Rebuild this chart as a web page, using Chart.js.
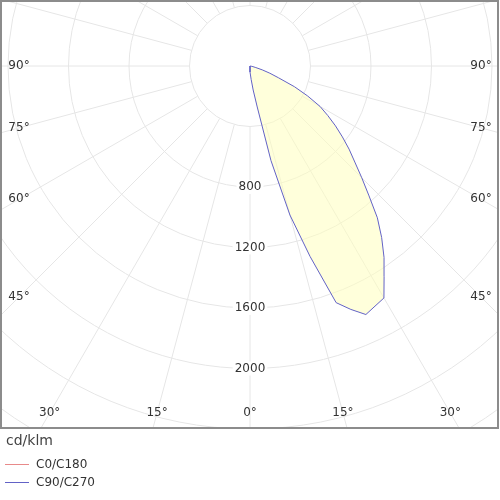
<!DOCTYPE html>
<html lang="en">
	<head>
		<meta http-equiv="content-type" content="text/html; charset=UTF-8">
		<script src="https://cdn.jsdelivr.net/npm/chart.js@4.4.1/dist/chart.umd.min.js"></script>
		<title>Polar intensity diagram</title>
		<style>
			body { margin: 0; background: #fff; }
			#wrap { position: absolute; left: 0; top: 0; width: 500px; height: 500px; }
		</style>
	</head>
	<body>
		<div id="wrap"><canvas id="polar-chart"></canvas></div>
		<script>
			// gamma angles (deg from nadir) and intensities in cd/klm
			var gammaAngles = [0, 2.5, 5, 7.5, 10, 12.5, 15, 17.5, 20, 22.5, 25, 27.5, 30, 32.5, 35, 37.5, 40, 42.5, 45,
				47.5, 50, 52.5, 55, 57.5, 60, 62.5, 65, 67.5, 70, 72.5, 75, 77.5, 80, 82.5, 85, 87.5, 90];
			var c90Values = [15, 40, 90, 160, 275, 640, 1020, 1320, 1665, 1742, 1813, 1790, 1771, 1650, 1545, 1430, 1310, 1165, 1045,
				940, 855, 770, 690, 610, 535, 430, 325, 205, 140, 85, 40, 20, 8, 3, 0, 0, 0];
			var c270Values = [15, 0, 0, 0, 0, 0, 0, 0, 0, 0, 0, 0, 0, 0, 0, 0, 0, 0, 0,
				0, 0, 0, 0, 0, 0, 0, 0, 0, 0, 0, 0, 0, 0, 0, 0, 0, 0];
			var c0Values = [0, 0, 0, 0, 0, 0, 0, 0, 0, 0, 0, 0, 0, 0, 0, 0, 0, 0, 0,
				0, 0, 0, 0, 0, 0, 0, 0, 0, 0, 0, 0, 0, 0, 0, 0, 0, 0];
			var c180Values = c0Values.slice();
			var ringValues = [400, 800, 1200, 1600, 2000, 2400, 2800, 3200, 3600, 4000];
			var ringLabels = ["800", "1200", "1600", "2000"];
			var angleLabels = [0, 15, 30, 45, 60, 75, 90];
			var seriesNames = ["C0/C180", "C90/C270"];
			var unitLabel = "cd/klm";

			// layout: centre at (250,66), 60.5 px per 400 cd
			var pxPerCd = 60.5 / 400;
			var area = {left: 1, top: 1, right: 499, bottom: 428};
			var centre = {x: 250, y: 66};

			function toPoints(leftVals, rightVals) {
				var pts = [];
				for (var i = gammaAngles.length - 1; i >= 0; i--) {
					var a = gammaAngles[i] * Math.PI / 180;
					pts.push({x: -leftVals[i] * Math.sin(a), y: -leftVals[i] * Math.cos(a)});
				}
				for (var j = 0; j < gammaAngles.length; j++) {
					var b = gammaAngles[j] * Math.PI / 180;
					pts.push({x: rightVals[j] * Math.sin(b), y: -rightVals[j] * Math.cos(b)});
				}
				return pts;
			}

			var font = "DejaVu Sans, Verdana, sans-serif";

			var polarGrid = {
				id: "polarGrid",
				beforeDatasetsDraw: function (chart) {
					var ctx = chart.ctx, ca = chart.chartArea;
					var xs = chart.scales.x, ys = chart.scales.y;
					var cx = xs.getPixelForValue(0), cy = ys.getPixelForValue(0);
					var k = (xs.getPixelForValue(1000) - cx) / 1000;
					ctx.save();
					ctx.beginPath();
					ctx.rect(ca.left, ca.top, ca.right - ca.left, ca.bottom - ca.top);
					ctx.clip();
					ctx.strokeStyle = "#e6e6e6";
					ctx.lineWidth = 1;
					for (var i = 0; i < ringValues.length; i++) {
						ctx.beginPath();
						ctx.arc(cx, cy, ringValues[i] * k, 0, Math.PI * 2);
						ctx.stroke();
					}
					var r0 = ringValues[0] * k;
					for (var g = 0; g < 360; g += 15) {
						var a = g * Math.PI / 180;
						ctx.beginPath();
						ctx.moveTo(cx + r0 * Math.sin(a), cy + r0 * Math.cos(a));
						ctx.lineTo(cx + 900 * Math.sin(a), cy + 900 * Math.cos(a));
						ctx.stroke();
					}
					ctx.restore();
				},
				afterDatasetsDraw: function (chart) {
					var ctx = chart.ctx, ca = chart.chartArea;
					var xs = chart.scales.x, ys = chart.scales.y;
					var cx = xs.getPixelForValue(0), cy = ys.getPixelForValue(0);
					var k = (xs.getPixelForValue(1000) - cx) / 1000;
					ctx.save();
					ctx.font = "12px " + font;
					ctx.textAlign = "center";
					ctx.textBaseline = "middle";
					// ring value labels along nadir
					for (var i = 0; i < ringLabels.length; i++) {
						var y = cy + Number(ringLabels[i]) * k;
						var w = ctx.measureText(ringLabels[i]).width;
						ctx.fillStyle = "#fff";
						ctx.fillRect(cx - w / 2 - 2, y - 7, w + 4, 14);
						ctx.fillStyle = "#333";
						ctx.fillText(ringLabels[i], cx, y);
					}
					// angle labels where spokes meet an inset box
					var inL = ca.left + 18, inR = ca.right - 18, inB = ca.bottom - 15;
					for (var j = 0; j < angleLabels.length; j++) {
						var g = angleLabels[j], a = g * Math.PI / 180;
						var sides = g === 0 ? [1] : [-1, 1];
						for (var s = 0; s < sides.length; s++) {
							var lx, ly;
							if (g >= 45) {
								lx = sides[s] < 0 ? inL : inR;
								ly = cy + Math.abs(lx - cx) / Math.tan(a);
							} else {
								ly = inB;
								lx = cx + sides[s] * (inB - cy) * Math.tan(a);
							}
							ctx.fillStyle = "#333";
							ctx.fillText(g + "\u00b0", lx, ly);
						}
					}
					// frame
					ctx.strokeStyle = "#8c8c8c";
					ctx.lineWidth = 2;
					ctx.strokeRect(ca.left, ca.top, ca.right - ca.left - 1, ca.bottom - ca.top);
					// unit and legend
					ctx.textAlign = "left";
					ctx.font = "14px " + font;
					ctx.fillStyle = "#444";
					ctx.fillText(unitLabel, 6, 441);
					ctx.font = "12px " + font;
					var ds = chart.data.datasets;
					for (var d = 0; d < ds.length; d++) {
						var ly2 = 464 + d * 18;
						ctx.strokeStyle = ds[d].borderColor;
						ctx.lineWidth = 1;
						ctx.beginPath();
						ctx.moveTo(5, ly2 + 0.5);
						ctx.lineTo(29, ly2 + 0.5);
						ctx.stroke();
						ctx.fillStyle = "#333";
						ctx.fillText(ds[d].label, 36, ly2 + 1);
					}
					ctx.restore();
				}
			};

			new Chart(document.getElementById("polar-chart"), {
				type: "scatter",
				data: {
					datasets: [
						{
							label: seriesNames[0],
							data: toPoints(c180Values, c0Values),
							showLine: true,
							borderColor: "#e88a8a",
							borderWidth: 1,
							pointRadius: 0,
							fill: false
						},
						{
							label: seriesNames[1],
							data: toPoints(c270Values, c90Values),
							showLine: true,
							borderColor: "#6262c6",
							backgroundColor: "rgba(255, 255, 190, 0.55)",
							borderWidth: 1,
							pointRadius: 0,
							fill: "shape"
						}
					]
				},
				options: {
					responsive: true,
					maintainAspectRatio: false,
					animation: false,
					layout: { padding: { left: area.left, top: area.top, right: 500 - area.right, bottom: 500 - area.bottom } },
					plugins: { legend: { display: false }, tooltip: { enabled: false } },
					scales: {
						x: { display: false, min: -(centre.x - area.left) / pxPerCd, max: (area.right - centre.x) / pxPerCd },
						y: { display: false, min: -(area.bottom - centre.y) / pxPerCd, max: (centre.y - area.top) / pxPerCd }
					}
				},
				plugins: [polarGrid]
			});
		</script>
	</body>
</html>
